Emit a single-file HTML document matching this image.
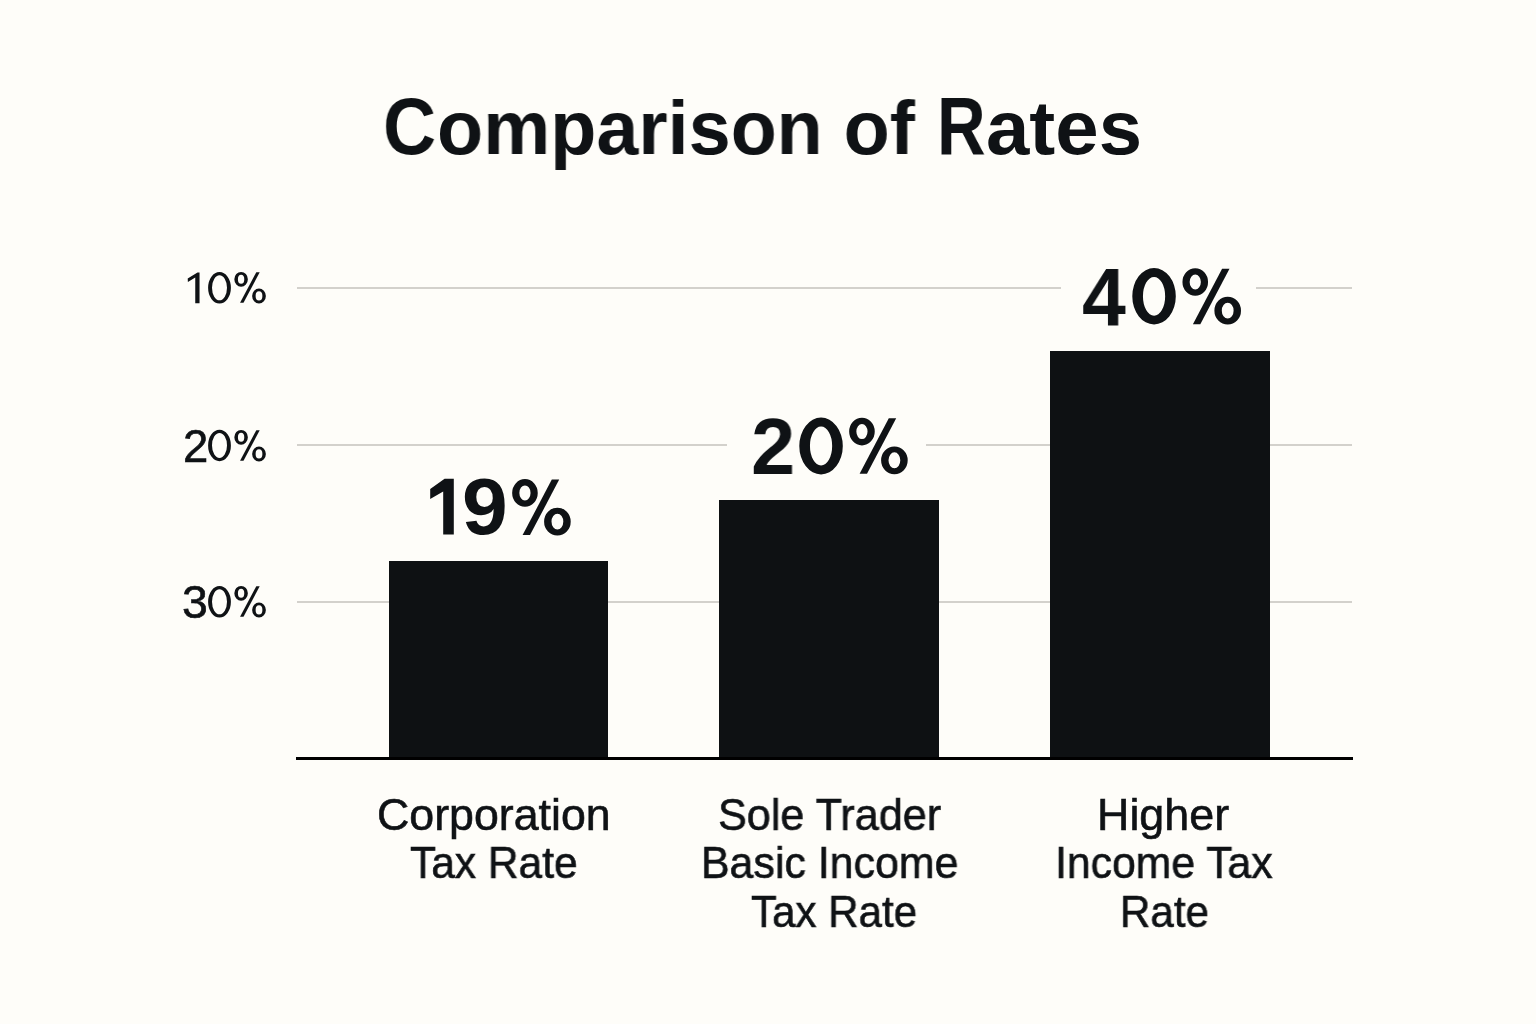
<!DOCTYPE html>
<html>
<head>
<meta charset="utf-8">
<style>
html,body{margin:0;padding:0;}
body{width:1536px;height:1024px;background:#fefdf9;position:relative;overflow:hidden;font-family:"Liberation Sans",sans-serif;color:#0f1215;}
.t{position:absolute;white-space:nowrap;line-height:1;transform-origin:0 0;will-change:transform;}
.r{-webkit-text-stroke:0.6px #0f1215;}
.g{position:absolute;height:2px;background:#d3d1cc;}
.bar{position:absolute;background:#0e1113;}
.axis{position:absolute;left:296px;width:1057px;top:757px;height:3px;background:#000;}
</style>
</head>
<body>
<div class="g" style="top:287px;left:297px;width:764px"></div>
<div class="g" style="top:287px;left:1256px;width:96px"></div>
<div class="g" style="top:444px;left:297px;width:430px"></div>
<div class="g" style="top:444px;left:926px;width:426px"></div>
<div class="g" style="top:601px;left:297px;width:1055px"></div>
<div class="bar" style="left:389px;width:219px;top:561px;height:197px"></div>
<div class="bar" style="left:719px;width:220px;top:500px;height:258px"></div>
<div class="bar" style="left:1050px;width:220px;top:351px;height:407px"></div>
<div class="axis"></div>
<div class="t" style="left:383.36px;top:87.14px;font-size:79.01px;font-weight:700;transform:scaleX(0.9304)">C</div>
<div class="t" style="left:436.88px;top:89.82px;font-size:76.0px;font-weight:700;transform:scaleX(0.9929)">omparison of</div>
<div class="t" style="left:937.13px;top:85.05px;font-size:82.19px;font-weight:700;transform:scaleX(0.8182)">R</div>
<div class="t" style="left:985.96px;top:89.66px;font-size:76.18px;font-weight:700;transform:scaleX(1.0233)">ates</div>
<div class="t r" style="left:182.55px;top:423.84px;font-size:45.46px;font-weight:400;transform:scaleX(0.991)">2</div>
<div class="t r" style="left:182.24px;top:579.79px;font-size:45.83px;font-weight:400;transform:scaleX(1.0121)">3</div>
<div class="t" style="left:461.92px;top:467.38px;font-size:79.44px;font-weight:700;transform:scaleX(1.0356)">9</div>
<div class="t" style="left:751.32px;top:405.94px;font-size:80.43px;font-weight:700;transform:scaleX(0.9869)">2</div>
<div class="t" style="left:1082.32px;top:255.44px;font-size:82.32px;font-weight:700;transform:scaleX(0.9582)">4</div>
<div class="t r" style="left:377.26px;top:792.53px;font-size:44.35px;font-weight:400;transform:scaleX(1.0087)">Corporation</div>
<div class="t r" style="left:410.04px;top:841.33px;font-size:44.35px;font-weight:400;transform:scaleX(0.9584)">Tax Rate</div>
<div class="t r" style="left:717.66px;top:792.53px;font-size:44.35px;font-weight:400;transform:scaleX(0.9734)">Sole Trader</div>
<div class="t r" style="left:701.27px;top:841.33px;font-size:44.35px;font-weight:400;transform:scaleX(0.9672)">Basic Income</div>
<div class="t r" style="left:750.65px;top:890.43px;font-size:44.35px;font-weight:400;transform:scaleX(0.9497)">Tax Rate</div>
<div class="t r" style="left:1097.41px;top:792.53px;font-size:44.35px;font-weight:400;transform:scaleX(1.0111)">Higher</div>
<div class="t r" style="left:1054.85px;top:841.33px;font-size:44.35px;font-weight:400;transform:scaleX(0.9634)">Income Tax</div>
<div class="t r" style="left:1119.63px;top:890.43px;font-size:44.35px;font-weight:400;transform:scaleX(0.9496)">Rate</div>
<svg style="position:absolute;left:0;top:0" width="1536" height="1024" fill="#0f1215"><path fill-rule="evenodd" d="M1132.30,296.20a21.75,28.20 0 1,0 43.50,0a21.75,28.20 0 1,0 -43.50,0ZM1142.95,296.35a11.10,19.45 0 1,0 22.20,0a11.10,19.45 0 1,0 -22.20,0Z"/><path fill-rule="evenodd" d="M799.30,446.00a21.75,28.40 0 1,0 43.50,0a21.75,28.40 0 1,0 -43.50,0ZM809.95,446.00a11.10,19.40 0 1,0 22.20,0a11.10,19.40 0 1,0 -22.20,0Z"/><path fill-rule="evenodd" d="M208.10,287.80a11.40,15.70 0 1,0 22.80,0a11.40,15.70 0 1,0 -22.80,0ZM212.00,287.80a7.50,12.50 0 1,0 15.00,0a7.50,12.50 0 1,0 -15.00,0Z"/><path fill-rule="evenodd" d="M208.10,445.45a11.40,15.70 0 1,0 22.80,0a11.40,15.70 0 1,0 -22.80,0ZM212.00,445.45a7.50,12.50 0 1,0 15.00,0a7.50,12.50 0 1,0 -15.00,0Z"/><path fill-rule="evenodd" d="M208.10,601.80a11.40,15.70 0 1,0 22.80,0a11.40,15.70 0 1,0 -22.80,0ZM212.00,601.80a7.50,12.50 0 1,0 15.00,0a7.50,12.50 0 1,0 -15.00,0Z"/><path fill-rule="evenodd" d="M512.15,492.90a12.80,13.80 0 1,0 25.60,0a12.80,13.80 0 1,0 -25.60,0ZM519.35,492.90a5.60,7.50 0 1,0 11.20,0a5.60,7.50 0 1,0 -11.20,0ZM544.10,521.60a13.30,13.90 0 1,0 26.60,0a13.30,13.90 0 1,0 -26.60,0ZM551.50,521.60a5.90,7.90 0 1,0 11.80,0a5.90,7.90 0 1,0 -11.80,0Z"/><path d="M551.80,479.60 L559.20,479.60 L530.00,535.10 L522.60,535.10Z"/><path fill-rule="evenodd" d="M849.15,431.60a12.80,13.80 0 1,0 25.60,0a12.80,13.80 0 1,0 -25.60,0ZM856.35,431.60a5.60,7.50 0 1,0 11.20,0a5.60,7.50 0 1,0 -11.20,0ZM881.10,460.30a13.30,13.90 0 1,0 26.60,0a13.30,13.90 0 1,0 -26.60,0ZM888.50,460.30a5.90,7.90 0 1,0 11.80,0a5.90,7.90 0 1,0 -11.80,0Z"/><path d="M888.80,418.30 L896.20,418.30 L867.00,473.80 L859.60,473.80Z"/><path fill-rule="evenodd" d="M1182.45,282.00a12.80,13.80 0 1,0 25.60,0a12.80,13.80 0 1,0 -25.60,0ZM1189.65,282.00a5.60,7.50 0 1,0 11.20,0a5.60,7.50 0 1,0 -11.20,0ZM1214.40,310.70a13.30,13.90 0 1,0 26.60,0a13.30,13.90 0 1,0 -26.60,0ZM1221.80,310.70a5.90,7.90 0 1,0 11.80,0a5.90,7.90 0 1,0 -11.80,0Z"/><path d="M1222.10,268.70 L1229.50,268.70 L1200.30,324.20 L1192.90,324.20Z"/><path fill-rule="evenodd" d="M234.33,279.30a6.77,7.40 0 1,0 13.54,0a6.77,7.40 0 1,0 -13.54,0ZM237.92,279.30a3.18,4.50 0 1,0 6.36,0a3.18,4.50 0 1,0 -6.36,0ZM252.13,295.95a6.87,7.50 0 1,0 13.74,0a6.87,7.50 0 1,0 -13.74,0ZM255.60,295.95a3.40,4.60 0 1,0 6.80,0a3.40,4.60 0 1,0 -6.80,0Z"/><path d="M256.30,272.15 L259.70,272.15 L243.50,302.85 L240.05,302.85Z"/><path fill-rule="evenodd" d="M234.33,437.30a6.77,7.40 0 1,0 13.54,0a6.77,7.40 0 1,0 -13.54,0ZM237.92,437.30a3.18,4.50 0 1,0 6.36,0a3.18,4.50 0 1,0 -6.36,0ZM252.13,453.95a6.87,7.50 0 1,0 13.74,0a6.87,7.50 0 1,0 -13.74,0ZM255.60,453.95a3.40,4.60 0 1,0 6.80,0a3.40,4.60 0 1,0 -6.80,0Z"/><path d="M256.30,430.15 L259.70,430.15 L243.50,460.85 L240.05,460.85Z"/><path fill-rule="evenodd" d="M234.33,593.30a6.77,7.40 0 1,0 13.54,0a6.77,7.40 0 1,0 -13.54,0ZM237.92,593.30a3.18,4.50 0 1,0 6.36,0a3.18,4.50 0 1,0 -6.36,0ZM252.13,609.95a6.87,7.50 0 1,0 13.74,0a6.87,7.50 0 1,0 -13.74,0ZM255.60,609.95a3.40,4.60 0 1,0 6.80,0a3.40,4.60 0 1,0 -6.80,0Z"/><path d="M256.30,586.15 L259.70,586.15 L243.50,616.85 L240.05,616.85Z"/><polygon fill="#0f1215" points="199.54,272.44 197.5,272.44 187.7,278.5 187.9,281.9 195.25,277.6 195.25,303.37 199.54,303.37"/><polygon fill="#0f1215" points="453.8,478.8 444.6,478.8 430.2,489.1 430.2,499.0 443.2,491.5 443.2,534.6 453.8,534.6"/></svg>
</body>
</html>
